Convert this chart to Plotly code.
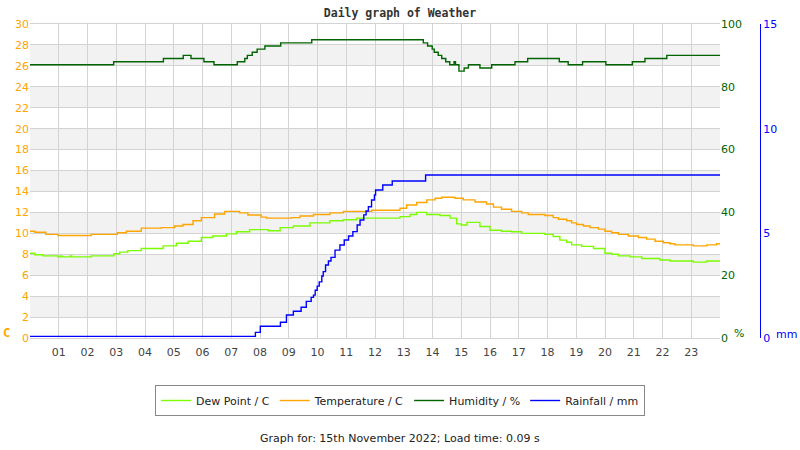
import plotly.graph_objects as go

hours_ticks = list(range(1, 24))
tick_labels = [f"{h:02d}" for h in hours_ticks]

temp_t = [0, 0.17, 0.55, 0.97, 2.13, 3.04, 3.35, 3.87, 4.57, 5.03, 5.32, 5.67, 5.96, 6.42, 6.77, 7.29,
          7.58, 8.04, 8.23, 9.1, 9.39, 9.86, 10.43, 10.9, 11.88, 12.87, 13.1, 13.45, 13.8, 14.09, 14.32,
          14.78, 15.07, 15.48, 15.88, 16.12, 16.4, 16.75, 17.1, 17.33, 17.91, 18.2, 18.38, 18.67, 18.84,
          19.01, 19.25, 19.48, 19.77, 20.0, 20.23, 20.47, 20.81, 21.16, 21.45, 21.74, 22.03, 22.26,
          22.43, 23.07, 23.54, 23.88, 24]
temp_v = [10.2, 10.1, 9.9, 9.8, 9.9, 10.05, 10.2, 10.5, 10.55, 10.7, 10.85, 11.2, 11.5, 11.85, 12.1, 11.95,
          11.75, 11.55, 11.45, 11.5, 11.65, 11.8, 11.95, 12.1, 12.2, 12.4, 12.7, 12.95, 13.2, 13.35, 13.45,
          13.35, 13.2, 13.0, 12.8, 12.5, 12.3, 12.1, 11.95, 11.8, 11.7, 11.5, 11.35, 11.2, 11.0,
          10.85, 10.7, 10.55, 10.4, 10.2, 10.05, 9.9, 9.75, 9.6, 9.45, 9.25, 9.1, 9.0,
          8.9, 8.8, 8.9, 9.0, 9.0]

dew_t = [0, 0.17, 0.45, 0.97, 1.05, 1.1, 1.4, 1.45, 2.13, 2.92, 3.12, 3.4, 3.87, 4.63, 5.09, 5.5, 5.96,
         6.36, 6.83, 7.18, 7.64, 8.29, 8.7, 9.16, 9.74, 10.43, 10.9, 11.36, 12.87, 13.22, 13.45, 13.8,
         14.26, 14.61, 14.84, 15.0, 15.2, 15.65, 16.0, 16.4, 16.75, 17.1, 17.91, 18.2, 18.43, 18.67,
         18.84, 19.19, 19.6, 20.0, 20.23, 20.47, 20.87, 21.28, 21.91, 22.26, 23.07, 23.54, 24]
dew_v = [8.1, 7.95, 7.85, 7.75, 7.85, 7.75, 7.85, 7.75, 7.85, 8.05, 8.2, 8.35, 8.55, 8.8, 9.05, 9.25, 9.6,
         9.75, 9.95, 10.15, 10.35, 10.25, 10.55, 10.7, 11.0, 11.2, 11.3, 11.45, 11.6, 11.8, 12.0, 11.8,
         11.7, 11.45, 10.9, 10.8, 11.05, 10.65, 10.3, 10.2, 10.15, 10.0, 9.9, 9.7, 9.35, 9.15,
         8.9, 8.75, 8.55, 8.1, 8.0, 7.85, 7.75, 7.6, 7.45, 7.35, 7.25, 7.35, 7.35]

hum_t = [0, 2.91, 4.64, 5.33, 5.6, 6.05, 6.4, 7.21, 7.47, 7.56, 7.73, 7.9, 8.17, 8.72, 9.8, 13.68, 13.83,
         13.99, 14.06, 14.2, 14.32, 14.46, 14.6, 14.75, 14.8, 14.92, 15.1, 15.25, 15.65, 16.06, 16.87,
         17.31, 18.41, 18.72, 19.22, 20.03, 20.95, 21.39, 22.15, 24]
hum_v = [87, 88, 89, 90, 89, 88, 87, 88, 89, 90, 91, 92, 93, 94, 95, 94, 93,
         92, 91, 90, 89, 88, 87, 88, 87, 85, 86, 87, 86, 87, 88,
         89, 88, 87, 88, 87, 88, 89, 90, 90]

rain_t = [0, 7.84, 8.01, 8.71, 8.92, 9.16, 9.43, 9.61, 9.78, 9.86, 9.92, 9.99, 10.06, 10.15, 10.2, 10.28,
          10.38, 10.47, 10.61, 10.78, 10.93, 11.08, 11.23, 11.38, 11.48, 11.61, 11.69, 11.77, 11.88,
          11.98, 12.02, 12.27, 12.6, 13.76, 24]
rain_v = [0.08, 0.27, 0.56, 0.75, 1.1, 1.28, 1.47, 1.75, 1.94, 2.05, 2.28, 2.48, 2.68, 2.96, 3.17, 3.49,
          3.68, 3.85, 4.2, 4.44, 4.68, 4.87, 5.08, 5.4, 5.64, 5.88, 6.07, 6.27, 6.59,
          6.83, 7.07, 7.31, 7.5, 7.79, 7.79]

C_DEW = "#7CFC00"
C_TEMP = "#FFA500"
C_HUM = "#006400"
C_RAIN = "#0000FF"
GRID = "#d3d3d3"

fig = go.Figure()
fig.add_trace(go.Scatter(x=dew_t, y=dew_v, name="Dew Point / C", mode="lines",
                         line=dict(color=C_DEW, width=1.4, shape="hv")))
fig.add_trace(go.Scatter(x=temp_t, y=temp_v, name="Temperature / C", mode="lines",
                         line=dict(color=C_TEMP, width=1.4, shape="hv")))
fig.add_trace(go.Scatter(x=hum_t, y=hum_v, name="Humidity / %", mode="lines", yaxis="y2",
                         line=dict(color=C_HUM, width=1.4, shape="hv")))
fig.add_trace(go.Scatter(x=rain_t, y=rain_v, name="Rainfall / mm", mode="lines", yaxis="y3",
                         line=dict(color=C_RAIN, width=1.4, shape="hv")))

# alternating bands
for lo in range(2, 30, 4):
    fig.add_shape(type="rect", xref="x", yref="y", x0=0, x1=24, y0=lo, y1=lo + 2,
                  fillcolor="#f2f2f2", line_width=0, layer="below")

W, H = 800, 450
ML, MR, MT, MB = 30, 30, 24, 112
pw = W - ML - MR
xdom_end = (720 - ML) / pw

fig.update_layout(
    width=W, height=H,
    margin=dict(l=ML, r=MR, t=MT, b=MB),
    paper_bgcolor="white", plot_bgcolor="white",
    font=dict(family="DejaVu Sans", size=11, color="#444"),
    title=dict(text="<b>Daily graph of Weather</b>", x=400 / W, xanchor="center", xref="paper",
               y=1 - 13 / H, yanchor="middle",
               font=dict(family="DejaVu Sans Mono", size=11.5, color="#333")),
    xaxis=dict(domain=[0, xdom_end], range=[0, 24], tickvals=hours_ticks, ticktext=tick_labels,
               showgrid=True, gridcolor=GRID, gridwidth=1, zeroline=False,
               showline=True, linecolor=GRID, mirror=True,
               ticks="outside", ticklen=4, tickcolor="rgba(0,0,0,0)",
               tickfont=dict(color="#444", size=11)),
    yaxis=dict(range=[0, 30], dtick=2, showgrid=True, gridcolor=GRID, zeroline=False,
               tickfont=dict(color=C_TEMP, size=11), ticks="", showline=False),
    yaxis2=dict(range=[0, 100], dtick=20, overlaying="y", side="right", anchor="x",
                showgrid=False, zeroline=False, ticks="", tickfont=dict(color=C_HUM, size=11)),
    yaxis3=dict(range=[0, 15], dtick=5, overlaying="y", side="right", anchor="free",
                position=(760 - ML) / pw, showgrid=False, zeroline=False, showline=True,
                linecolor=C_RAIN, linewidth=1, ticks="", tickfont=dict(color=C_RAIN, size=11)),
    legend=dict(orientation="h", x=(400 - ML) / pw, xref="paper", xanchor="center",
                y=(338 - 385) / 314, yanchor="top",
                bordercolor="#888", borderwidth=1, bgcolor="white",
                font=dict(family="DejaVu Sans", size=11, color="#222"), itemwidth=30),
    showlegend=True,
)

fig.add_annotation(text="<b>C</b>", xref="paper", yref="paper", x=(6 - ML) / pw, y=(338 - 333) / 314,
                   showarrow=False, font=dict(color=C_TEMP, size=12, family="DejaVu Sans Mono"),
                   xanchor="center", yanchor="middle")
fig.add_annotation(text="%", xref="paper", yref="paper", x=(739 - ML) / pw, y=(338 - 333) / 314,
                   showarrow=False, font=dict(color=C_HUM, size=11), xanchor="center", yanchor="middle")
fig.add_annotation(text="mm", xref="paper", yref="paper", x=(786 - ML) / pw, y=(338 - 334) / 314,
                   showarrow=False, font=dict(color=C_RAIN, size=11), xanchor="center", yanchor="middle")
fig.add_annotation(text="Graph for: 15th November 2022; Load time: 0.09 s", xref="paper", yref="paper",
                   x=(400 - ML) / pw, y=(338 - 438) / 314, showarrow=False,
                   font=dict(color="#222", size=11), xanchor="center", yanchor="middle")

fig.write_html("out.html")
